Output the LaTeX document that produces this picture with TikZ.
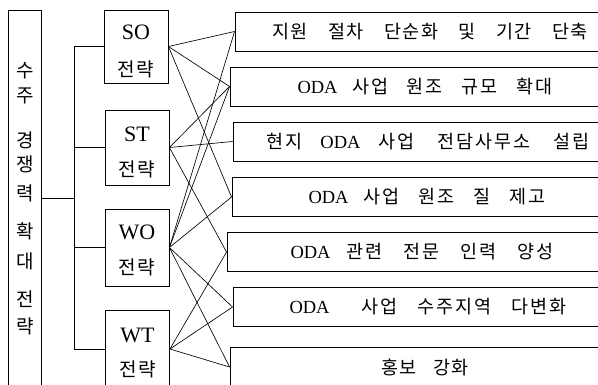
\documentclass[tikz,border=0pt]{standalone}
\usepackage{fontspec}
\setmainfont{Liberation Serif}
\newfontfamily\kr{Noto Sans CJK KR}[LetterSpace=8]
\newfontfamily\krw{Noto Sans CJK KR}[LetterSpace=10]
\begin{document}
\begin{tikzpicture}[x=1pt,y=-1pt,
  box/.style={draw, line width=0.9pt, inner sep=0pt, anchor=center},
  rbox/.style={box, minimum width=390pt, minimum height=39pt, font=\fontsize{18.5}{20}\selectfont},
  sbox/.style={box, minimum width=64pt},
  lat/.style={inner sep=0pt, font=\fontsize{22}{24}\selectfont},
  kor/.style={inner sep=0pt, font=\fontsize{19}{20}\selectfont\kr},
  vch/.style={inner sep=0pt, font=\fontsize{19}{20}\selectfont\kr},
  link/.style={line width=0.65pt},
  tree/.style={line width=0.8pt}]
\useasboundingbox (0,0) rectangle (598,385);
\clip (0,0) rectangle (598,385);
% left tall box
\node[box, minimum width=33pt, minimum height=376pt] (L) at (25,198) {};
\node[vch] (c1) at (25,71) {수};
\node[vch] (c2) at (25,96) {주};
\node[vch] (c3) at (25,140) {경};
\node[vch] (c4) at (25,164) {쟁};
\node[vch] (c5) at (25,193) {력};
\node[vch] (c6) at (25,231) {확};
\node[vch] (c7) at (25,261) {대};
\node[vch] (c8) at (25,299) {전};
\node[vch] (c9) at (25,326) {략};
% strategy boxes
\node[sbox, minimum height=73pt] (SO) at (136,46.5) {};
\node[sbox, minimum height=75pt] (ST) at (137,147.5) {};
\node[sbox, minimum height=77pt] (WO) at (137,247.5) {};
\node[sbox, minimum height=78pt] (WT) at (137.5,349) {};
\node[lat] (SOt) at (136,32) {SO};
\node[kor] (SOk) at (136,69) {전략};
\node[lat] (STt) at (137,134) {ST};
\node[kor] (STk) at (137,169) {전략};
\node[lat] (WOt) at (137,232.5) {WO};
\node[kor] (WOk) at (137,267.5) {전략};
\node[lat] (WTt) at (137.5,335) {WT};
\node[kor] (WTk) at (137.5,369) {전략};
% tree connectors
\coordinate (J) at (74,198);
\draw[tree] (L.east) -- (J);
\draw[tree] (SO.west) -| (J);
\draw[tree] (ST.west) -| (J);
\draw[tree] (WO.west) -| (J);
\draw[tree] (WT.west) -| (J);
% right boxes
\node[rbox] (r1) at (430,31.5) {\makebox[316pt][s]{\krw 지원 절차 단순화 및 기간 단축}};
\node[rbox] (r2) at (425,86.5) {\makebox[255pt][s]{ODA {\krw 사업 원조 규모 확대}}};
\node[rbox] (r3) at (428,141.5) {\makebox[323pt][s]{{\krw 현지} ODA {\krw 사업 전담사무소 설립}}};
\node[rbox] (r4) at (427,197) {\makebox[237pt][s]{ODA {\krw 사업 원조 질 제고}}};
\node[rbox] (r5) at (422,252) {\makebox[263pt][s]{ODA {\krw 관련 전문 인력 양성}}};
\node[rbox] (r6) at (428,307) {\makebox[277pt][s]{ODA \ {\krw 사업 수주지역 다변화}}};
\node[rbox] (r7) at (425,367) {\makebox[88pt][s]{\krw 홍보 강화}};
% links
\foreach \t in {r1,r2,r4} \draw[link] (SO.east) -- (\t.west);
\foreach \t in {r2,r3,r5} \draw[link] (ST.east) -- (\t.west);
\foreach \t in {r1,r2,r4,r6,r7} \draw[link] (WO.east) -- (\t.west);
\foreach \t in {r5,r6,r7} \draw[link] (WT.east) -- (\t.west);
\end{tikzpicture}
\end{document}
